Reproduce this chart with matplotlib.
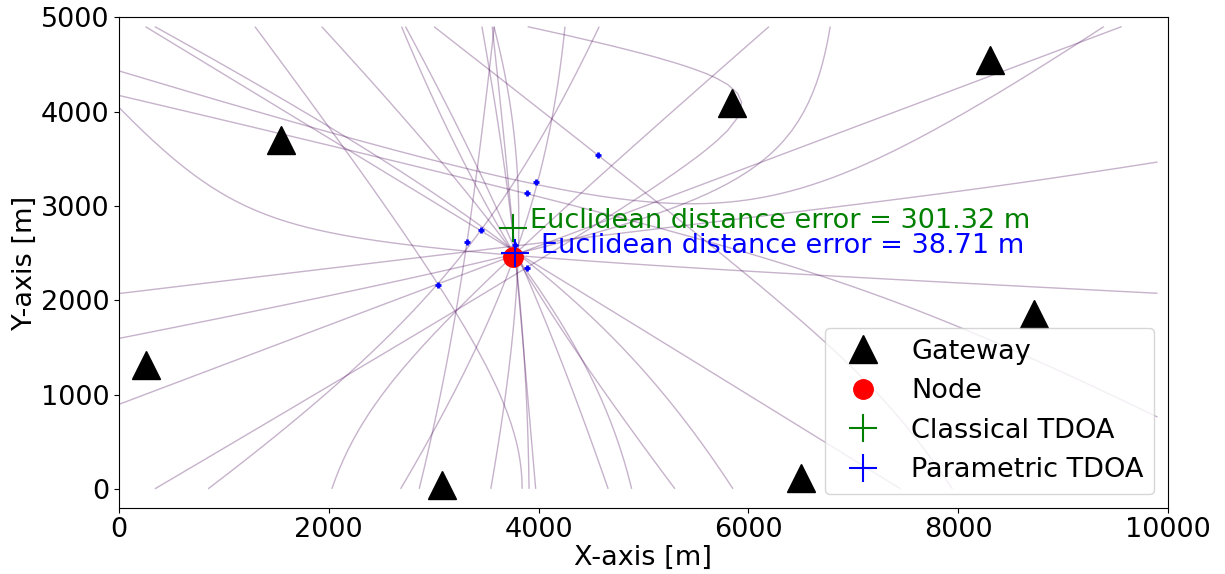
import numpy as np
import matplotlib
matplotlib.use("Agg")
import matplotlib.pyplot as plt

# gateway positions [m]
gw_x = [254, 1541, 3076, 5840, 6498, 8300, 8723]
gw_y = [1316, 3697, 38, 4092, 117, 4549, 1852]

# true node position [m]
node_x, node_y = 3760, 2460

# range-difference measurement error per gateway pair [m]
pairs = [(0, 1), (0, 2), (0, 3), (0, 4), (0, 5), (0, 6),
         (1, 2), (1, 3), (1, 4), (1, 5), (1, 6),
         (2, 3), (2, 4), (2, 5), (2, 6),
         (3, 4), (3, 5), (3, 6),
         (4, 5), (4, 6),
         (5, 6)]
tdoa_err = [13, -9, 43, -801, 87, 39,
            -20, 30, -825, 81, 14,
            104, -802, 93, 35,
            -990, 41, -19,
            744, 839,
            -61]

# estimated positions [m]
classical_x, classical_y = 3760, 2761.32
param_x, param_y = 3775, 2495.7

# pairwise intersection points from the parametric solver
pts_x = [4566, 3975, 3889, 3451, 3317, 3041, 3889, 3775]
pts_y = [3538, 3252, 3135, 2742, 2615, 2158, 2339, 2583]

err_classical = 301.32
err_param = 38.71

plt.rcParams['font.size'] = 19.5

fig = plt.figure(figsize=(12.25, 5.74), dpi=100)
ax = fig.add_axes([0.0971, 0.1155, 0.8564, 0.8545])

# hyperbola of every gateway pair
X, Y = np.meshgrid(np.arange(0, 10000, 100), np.arange(0, 5000, 100))
for (i, j), e in zip(pairs, tdoa_err):
    di = np.hypot(node_x - gw_x[i], node_y - gw_y[i])
    dj = np.hypot(node_x - gw_x[j], node_y - gw_y[j])
    F = np.hypot(X - gw_x[i], Y - gw_y[i]) - np.hypot(X - gw_x[j], Y - gw_y[j]) - (di - dj + e)
    ax.contour(X, Y, F, levels=[0], colors='#440154', alpha=0.3, linewidths=1)

ax.plot(gw_x, gw_y, '^', color='black', markersize=20, label='Gateway')
ax.plot(node_x, node_y, 'o', color='red', markersize=14, label='Node')
ax.plot(classical_x, classical_y, '+', color='green', markersize=20, mew=1.5, label='Classical TDOA')
ax.plot(param_x, param_y, '+', color='blue', markersize=20, mew=1.5, label='Parametric TDOA')
ax.plot(pts_x, pts_y, '+', color='blue', markersize=5, mew=2)

ax.text(classical_x + 160, classical_y, 'Euclidean distance error = %.2f m' % err_classical, color='green')
ax.text(param_x + 250, param_y, 'Euclidean distance error = %.2f m' % err_param, color='blue')

ax.set_xlim(0, 10000)
ax.set_ylim(-200, 5000)
ax.set_xlabel('X-axis [m]', labelpad=1)
ax.set_ylabel('Y-axis [m]', labelpad=2)
ax.legend(loc='lower right')

fig.savefig('out.png', dpi=100)
